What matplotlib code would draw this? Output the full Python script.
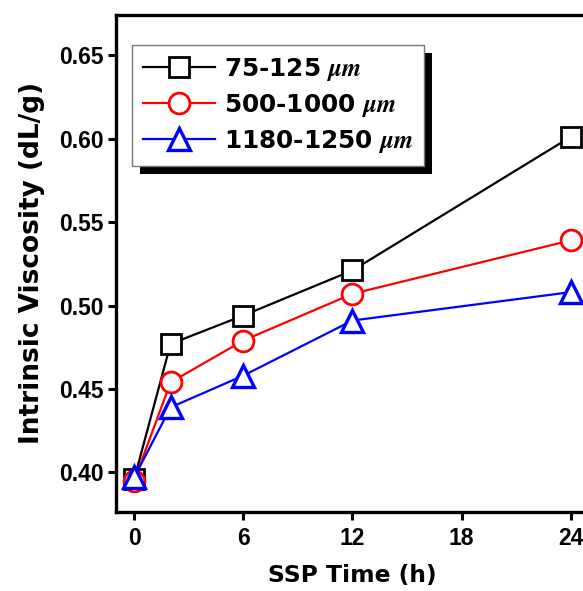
import matplotlib
matplotlib.use('Agg')
import matplotlib.pyplot as plt
from matplotlib.patches import Rectangle
from matplotlib.transforms import IdentityTransform

plt.rcParams['font.family'] = ['Liberation Sans', 'DejaVu Sans']
plt.rcParams['font.weight'] = 'bold'
plt.rcParams['mathtext.fontset'] = 'stix'

# SSP time (h) and intrinsic viscosity (dL/g) for each particle size
ssp_time = [0, 2, 6, 12, 24]
iv_75_125 = [0.396, 0.477, 0.494, 0.521, 0.601]
iv_500_1000 = [0.395, 0.454, 0.479, 0.507, 0.539]
iv_1180_1250 = [0.397, 0.439, 0.458, 0.491, 0.508]
labels = ['75-125 $\\mu m$', '500-1000 $\\mu m$', '1180-1250 $\\mu m$']

x_ticks = [0, 6, 12, 18, 24]
y_ticks = [0.40, 0.45, 0.50, 0.55, 0.60, 0.65]

wide = ['DejaVu Sans']

fig = plt.figure(figsize=(5.83, 5.91), dpi=100)
ax = fig.add_axes([0.199, 0.1342, 0.811, 0.8404])

ax.plot(ssp_time, iv_75_125, color='black', marker='s', ms=14, mfc='white',
        mew=2, lw=1.6, label=labels[0])
ax.plot(ssp_time, iv_500_1000, color='red', marker='o', ms=15, mfc='white',
        mew=2, lw=1.6, label=labels[1])
ax.plot(ssp_time, iv_1180_1250, color='blue', marker='^', ms=16, mfc='white',
        mew=2.4, lw=1.6, label=labels[2])

ax.set_xlim(-1.0, 25.0)
ax.set_ylim(0.3765, 0.674)
ax.set_xticks(x_ticks)
ax.set_yticks(y_ticks)
ax.set_yticklabels(['%.2f' % v for v in y_ticks])

for s in ax.spines.values():
    s.set_linewidth(2.4)
ax.tick_params(direction='out', length=6, width=2.2, labelsize=16.5, pad=3)
ax.tick_params(axis='x', pad=5)

ax.set_xlabel('SSP Time (h)', fontsize=16.8, fontweight='bold', family=wide,
              labelpad=10)
ax.set_ylabel('Intrinsic Viscosity (dL/g)', fontsize=19, fontweight='bold',
              family=wide, labelpad=10)

leg = ax.legend(loc='upper left', bbox_to_anchor=(0.034, 0.9396), borderaxespad=0,
                prop={'family': wide, 'weight': 'bold', 'size': 17.8},
                handlelength=2.9, handletextpad=0.36, labelspacing=0.36,
                borderpad=0.45, fancybox=False, framealpha=1, edgecolor='#777777')
leg.get_frame().set_linewidth(1.0)

# solid black drop shadow behind the legend box
fig.canvas.draw()
bb = leg.get_window_extent()
shadow = Rectangle((bb.x0 + 8, bb.y0 - 8), bb.width, bb.height, facecolor='black',
                   edgecolor='none', transform=IdentityTransform(), zorder=4.5,
                   clip_on=False)
ax.add_artist(shadow)

fig.savefig('out.png', dpi=100)
